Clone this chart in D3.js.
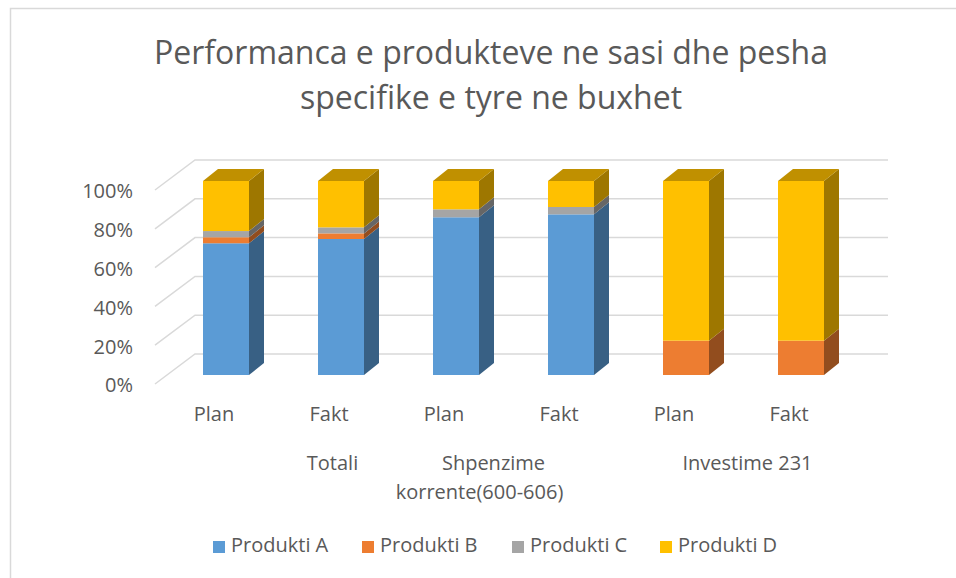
<!DOCTYPE html>
<html>
<head>
<meta charset="utf-8">
<script src="https://cdn.jsdelivr.net/npm/d3@7"></script>
<style>
  body { margin: 0; background: #fff; }
  text { font-family: "Open Sans", "Noto Sans", sans-serif; fill: #595959; }
</style>
</head>
<body>
<svg id="chart" width="956" height="578"></svg>
<script>
// data
const groups = ['Totali', 'Shpenzime korrente(600-606)', 'Investime 231'];
const categories = ['Plan', 'Fakt', 'Plan', 'Fakt', 'Plan', 'Fakt'];
const categoryGroup = [0, 0, 1, 1, 2, 2];
const seriesNames = ['Produkti A', 'Produkti B', 'Produkti C', 'Produkti D'];
const produktiA = [67.9, 70.1, 81.3, 82.8, 0, 0];
const produktiB = [3.1, 2.9, 0, 0, 17.7, 17.7];
const produktiC = [3.2, 3.1, 4.1, 3.8, 0, 0];
const produktiD = [25.8, 23.9, 14.6, 13.4, 82.3, 82.3];
const yTicks = [0, 0.2, 0.4, 0.6, 0.8, 1];
const colors = ['#5B9BD5', '#ED7D31', '#A5A5A5', '#FFC000'];

const dim = { width: 956, height: 578 };
// 3d offsets (wall depth and bar placement in depth)
const wall = { dx: 40, dy: -30 };
const barFront = { dx: 12, dy: -9 };
const barBack = { dx: 27, dy: -21 };

const svg = d3.select('#chart');

const x = d3.scaleBand()
  .domain(d3.range(categories.length))
  .range([156.5, 846.5])
  .paddingInner(0.6)
  .paddingOuter(0.3);

const y = d3.scaleLinear()
  .domain([0, 1])
  .range([384, 190]);

// frame
svg.append('path')
  .attr('d', `M10.5,${dim.height} V8.5 H${dim.width}`)
  .attr('fill', 'none')
  .attr('stroke', '#D9D9D9')
  .attr('stroke-width', 1.5);

// title
svg.append('text')
  .attr('text-anchor', 'middle')
  .style('font-size', '32px')
  .call((t) => {
    t.append('tspan').attr('x', 491).attr('y', 64).text('Performanca e produkteve ne sasi dhe pesha');
    t.append('tspan').attr('x', 491).attr('y', 109).text('specifike e tyre ne buxhet');
  });

// gridlines: side wall diagonal + back wall line
const x0 = x.range()[0] - 1.5;
const x1 = x.range()[1] + 1.5;
svg.append('g')
  .selectAll('path')
  .data(yTicks)
  .join('path')
  .attr('d', (d) => `M${x0},${y(d)} L${x0 + wall.dx},${y(d) + wall.dy} H${x1 + wall.dx}`)
  .attr('fill', 'none')
  .attr('stroke', '#D9D9D9')
  .attr('stroke-width', 1.5);

// y labels
svg.append('g')
  .selectAll('text')
  .data(yTicks)
  .join('text')
  .attr('x', 133)
  .attr('y', (d) => y(d) + 3)
  .attr('text-anchor', 'end')
  .attr('dominant-baseline', 'middle')
  .style('font-size', '20px')
  .text(d3.format('.0%'));

// stacked 3d bars
const rows = categories.map((c, i) => ({
  'Produkti A': produktiA[i] / 100,
  'Produkti B': produktiB[i] / 100,
  'Produkti C': produktiC[i] / 100,
  'Produkti D': produktiD[i] / 100,
}));
const stack = d3.stack().keys(seriesNames)(rows);

const shade = (c, k) => d3.rgb(c).darker(k).formatHex();
const depthX = barBack.dx - barFront.dx;
const depthY = barBack.dy - barFront.dy;

const bars = svg.append('g');
stack.forEach((layer, si) => {
  const color = colors[si];
  layer.forEach((d, i) => {
    if (d[1] - d[0] <= 0) return;
    const left = x(i) + barFront.dx;
    const right = left + x.bandwidth();
    const yb = y(d[0]) + barFront.dy;
    const yt = y(d[1]) + barFront.dy;
    const g = bars.append('g');
    g.append('path')
      .attr('d', `M${right},${yb} L${right + depthX},${yb + depthY} L${right + depthX},${yt + depthY} L${right},${yt} Z`)
      .attr('fill', shade(color, 1.35));
    g.append('rect')
      .attr('x', left)
      .attr('y', yt)
      .attr('width', x.bandwidth())
      .attr('height', yb - yt)
      .attr('fill', color);
    if (si === seriesNames.length - 1 || d[1] >= 0.999) {
      g.append('path')
        .attr('d', `M${left},${yt} L${left + depthX},${yt + depthY} L${right + depthX},${yt + depthY} L${right},${yt} Z`)
        .attr('fill', shade(color, 0.8));
    }
  });
});

// category labels
svg.append('g')
  .selectAll('text')
  .data(categories)
  .join('text')
  .attr('x', (d, i) => x(i) + x.bandwidth() / 2)
  .attr('y', 421)
  .attr('text-anchor', 'middle')
  .style('font-size', '20px')
  .text((d) => d);

// group labels
const groupLabelDx = [61, -8, 16];
const groupLines = [['Totali'], ['Shpenzime', 'korrente(600-606)'], ['Investime 231']];
svg.append('g')
  .selectAll('text')
  .data(groups)
  .join('text')
  .attr('text-anchor', 'middle')
  .style('font-size', '20px')
  .each(function (d, gi) {
    const idx = categoryGroup.map((g, i) => (g === gi ? i : -1)).filter((i) => i >= 0);
    const cx = d3.mean(idx, (i) => x(i) + x.bandwidth() / 2) + groupLabelDx[gi];
    d3.select(this).selectAll('tspan')
      .data(groupLines[gi])
      .join('tspan')
      .attr('x', (t, li) => (li === 0 ? cx : cx - 14))
      .attr('y', (t, li) => 470 + li * 29)
      .text((t) => t);
  });

// legend
const legendX = [213, 362, 512, 660];
const legend = svg.append('g')
  .selectAll('g')
  .data(seriesNames)
  .join('g')
  .attr('transform', (d, i) => `translate(${legendX[i]},547)`);
legend.append('rect')
  .attr('y', -6)
  .attr('width', 12)
  .attr('height', 12)
  .attr('fill', (d, i) => colors[i]);
legend.append('text')
  .attr('x', 18)
  .attr('dominant-baseline', 'middle')
  .style('font-size', '20px')
  .text((d) => d);
</script>
</body>
</html>
